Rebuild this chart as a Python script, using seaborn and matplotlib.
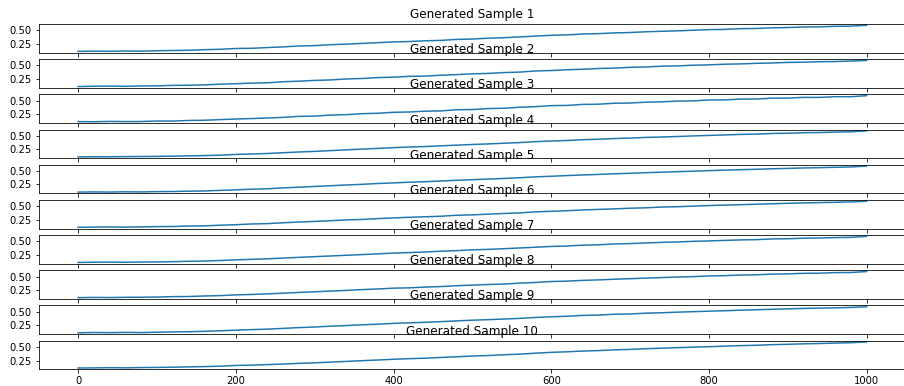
import matplotlib
matplotlib.use("Agg")
import matplotlib.pyplot as plt
import seaborn as sns
import pandas as pd

x_values = list(range(0, 1001, 20))

sample_1 = [0.105,0.110,0.107,0.112,0.109,0.117,0.122,0.126,0.137,0.144,0.159,0.163,0.177,0.189,0.206,0.213,0.230,0.241,0.254,0.269,0.281,0.290,0.303,0.311,0.329,0.336,0.352,0.361,0.376,0.391,0.406,0.414,0.430,0.437,0.451,0.458,0.472,0.481,0.489,0.501,0.512,0.516,0.530,0.534,0.546,0.551,0.562,0.564,0.574,0.577,0.593]
sample_2 = [0.102,0.108,0.111,0.106,0.114,0.116,0.124,0.127,0.133,0.147,0.155,0.167,0.173,0.192,0.203,0.217,0.226,0.244,0.253,0.270,0.278,0.294,0.298,0.314,0.326,0.340,0.348,0.364,0.373,0.394,0.402,0.417,0.426,0.440,0.448,0.462,0.468,0.484,0.488,0.502,0.508,0.520,0.526,0.537,0.543,0.554,0.558,0.567,0.570,0.580,0.590]
sample_3 = [0.108,0.106,0.112,0.109,0.110,0.120,0.119,0.130,0.134,0.146,0.157,0.166,0.176,0.188,0.207,0.212,0.231,0.239,0.257,0.265,0.283,0.289,0.304,0.309,0.331,0.335,0.353,0.359,0.378,0.389,0.408,0.412,0.431,0.435,0.453,0.457,0.473,0.479,0.493,0.497,0.514,0.515,0.531,0.532,0.548,0.549,0.563,0.562,0.576,0.575,0.595]
sample_4 = [0.100,0.104,0.103,0.106,0.108,0.110,0.115,0.120,0.126,0.133,0.148,0.155,0.165,0.180,0.194,0.205,0.220,0.234,0.248,0.262,0.276,0.288,0.297,0.310,0.324,0.336,0.347,0.360,0.372,0.390,0.402,0.412,0.427,0.435,0.449,0.457,0.470,0.478,0.488,0.498,0.508,0.517,0.527,0.533,0.545,0.550,0.560,0.563,0.571,0.577,0.595]
sample_5 = [0.103,0.107,0.104,0.109,0.106,0.112,0.114,0.121,0.124,0.136,0.146,0.158,0.166,0.183,0.196,0.210,0.223,0.238,0.250,0.266,0.277,0.291,0.300,0.313,0.327,0.338,0.350,0.361,0.375,0.392,0.403,0.416,0.428,0.438,0.450,0.459,0.471,0.480,0.490,0.499,0.510,0.518,0.528,0.535,0.545,0.552,0.560,0.566,0.573,0.579,0.597]
sample_6 = [0.106,0.109,0.112,0.108,0.113,0.118,0.121,0.129,0.132,0.145,0.154,0.168,0.174,0.190,0.204,0.215,0.229,0.243,0.252,0.268,0.280,0.293,0.301,0.312,0.330,0.337,0.351,0.363,0.374,0.393,0.404,0.415,0.429,0.439,0.449,0.461,0.469,0.483,0.489,0.500,0.511,0.519,0.527,0.536,0.544,0.553,0.559,0.566,0.571,0.579,0.592]
sample_7 = [0.101,0.105,0.108,0.104,0.109,0.111,0.116,0.123,0.128,0.138,0.150,0.160,0.170,0.184,0.198,0.211,0.224,0.237,0.251,0.264,0.279,0.289,0.299,0.315,0.325,0.341,0.349,0.362,0.376,0.390,0.405,0.413,0.429,0.436,0.452,0.459,0.471,0.482,0.490,0.502,0.509,0.519,0.529,0.534,0.547,0.551,0.561,0.565,0.573,0.578,0.596]
sample_8 = [0.104,0.108,0.106,0.110,0.112,0.115,0.123,0.125,0.135,0.142,0.156,0.164,0.175,0.187,0.202,0.214,0.227,0.240,0.255,0.267,0.282,0.288,0.302,0.312,0.328,0.339,0.351,0.359,0.377,0.389,0.407,0.414,0.428,0.437,0.450,0.460,0.470,0.481,0.491,0.499,0.511,0.517,0.529,0.533,0.546,0.550,0.561,0.563,0.574,0.576,0.594]
sample_9 = [0.103,0.109,0.106,0.111,0.107,0.114,0.120,0.124,0.131,0.141,0.153,0.163,0.172,0.186,0.201,0.212,0.228,0.239,0.254,0.265,0.280,0.291,0.300,0.313,0.327,0.340,0.350,0.362,0.374,0.392,0.404,0.414,0.430,0.436,0.452,0.457,0.472,0.480,0.491,0.500,0.510,0.518,0.528,0.536,0.545,0.553,0.561,0.567,0.572,0.580,0.593]
sample_10 = [0.112,0.114,0.118,0.115,0.120,0.123,0.127,0.133,0.138,0.146,0.160,0.165,0.176,0.186,0.199,0.209,0.222,0.236,0.249,0.262,0.276,0.287,0.296,0.310,0.323,0.337,0.346,0.361,0.372,0.390,0.406,0.416,0.430,0.439,0.453,0.461,0.474,0.484,0.494,0.503,0.512,0.522,0.532,0.539,0.550,0.557,0.566,0.572,0.580,0.587,0.602]

samples = [sample_1, sample_2, sample_3, sample_4, sample_5,
           sample_6, sample_7, sample_8, sample_9, sample_10]
titles = [f"Generated Sample {i}" for i in range(1, 11)]
y_ticks = [0.25, 0.50]
y_tick_labels = ["0.25", "0.50"]
x_ticks = [0, 200, 400, 600, 800, 1000]

W, H, DPI = 904, 386, 72
fig, axes = plt.subplots(10, 1, sharex=True, figsize=(W / DPI, H / DPI), dpi=DPI)
ax_h = 28.7
gap = 6.48
fig.subplots_adjust(left=38.7 / W, right=906.0 / W, top=1 - 24.0 / H,
                    bottom=1 - 369.3 / H, hspace=gap / ax_h)

for ax, vals, title in zip(axes, samples, titles):
    df = pd.DataFrame({"x": x_values, "y": vals})
    sns.lineplot(data=df, x="x", y="y", ax=ax, color="#1f77b4", linewidth=1.5)
    ax.set_title(title)
    ax.set_xlabel("")
    ax.set_ylabel("")
    ax.set_yticks(y_ticks)
    ax.set_yticklabels(y_tick_labels)

axes[-1].set_xticks(x_ticks)

fig.savefig("out.png", dpi=DPI)
